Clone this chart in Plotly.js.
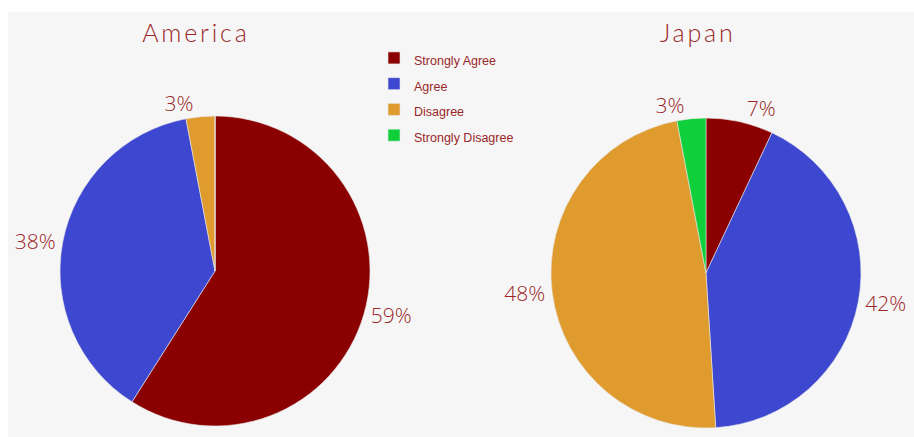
<!DOCTYPE html>
<html>
<head>
<meta charset="utf-8">
<script src="https://cdn.plot.ly/plotly-3.0.1.min.js"></script>
<style>
  html, body { margin: 0; padding: 0; background: #ffffff; }
  body { padding: 12px 0 0 8px; }
  #chart { width: 906px; height: 425px; }
  #chart .annotation-text { letter-spacing: 2.8px; }
</style>
</head>
<body>
<div id="chart"></div>
<script>
const categories = ["Strongly Agree", "Agree", "Disagree", "Strongly Disagree"];
const americaValues = [59, 38, 3, 0];
const japanValues = [7, 42, 48, 3];
const sliceColors = ["#8b0000", "#3d47cf", "#df9b2e", "#0fcf3b"];
const chartTitles = ["America", "Japan"];

const labelColor = "#9a2628";

// legend entries: small text inside a taller legend row
const legendLabels = categories.map(c => '<span style="font-size:12.5px">' + c + '</span>');

function pieTrace(values, domain) {
  return {
    type: "pie",
    labels: legendLabels,
    values: values,
    sort: false,
    direction: "clockwise",
    rotation: 0,
    domain: domain,
    marker: { colors: sliceColors, line: { color: "#e8e8e8", width: 0.6 } },
    textposition: "outside",
    texttemplate: values.map(v => v > 0 ? "%{percent:.0%}" : ""),
    textfont: { family: "'Open Sans', sans-serif", size: 21, weight: 300, color: labelColor },
    hoverinfo: "label+percent",
    showlegend: true
  };
}

const data = [
  pieTrace(americaValues, { x: [0.0574, 0.3996], y: [0.0259, 0.7553] }),
  pieTrace(japanValues, { x: [0.5993, 0.9415], y: [0.0212, 0.7506] })
];

const layout = {
  width: 906,
  height: 425,
  margin: { l: 0, r: 0, t: 0, b: 0 },
  paper_bgcolor: "#f6f6f6",
  plot_bgcolor: "#f6f6f6",
  showlegend: true,
  legend: {
    x: 0.404, y: 0.934, xanchor: "left", yanchor: "top",
    bgcolor: "rgba(0,0,0,0)",
    font: { family: "'Liberation Sans', Arial, sans-serif", size: 17.5, color: labelColor },
    traceorder: "normal"
  },
  annotations: [
    { text: chartTitles[0], x: 0.208, y: 0.952, xref: "paper", yref: "paper",
      xanchor: "center", yanchor: "middle", showarrow: false,
      font: { family: "Lato, sans-serif", size: 25, weight: 300, color: labelColor } },
    { text: chartTitles[1], x: 0.762, y: 0.952, xref: "paper", yref: "paper",
      xanchor: "center", yanchor: "middle", showarrow: false,
      font: { family: "Lato, sans-serif", size: 25, weight: 300, color: labelColor } }
  ]
};

Plotly.newPlot("chart", data, layout, { displayModeBar: false, staticPlot: true });
</script>
</body>
</html>
